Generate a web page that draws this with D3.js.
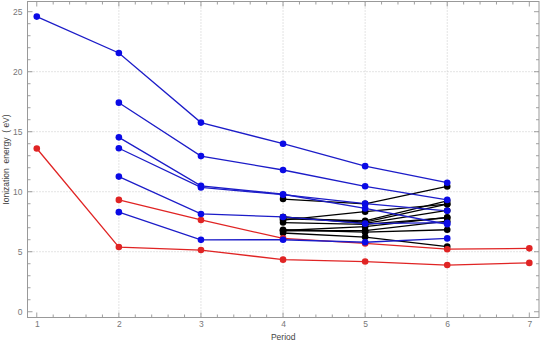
<!DOCTYPE html>
<html><head><meta charset="utf-8">
<script src="https://cdn.jsdelivr.net/npm/d3@7"></script>
<style>body{margin:0;background:#fff}svg{display:block}</style>
</head><body>
<svg id="c" width="540" height="341"></svg>
<script>
// periods for each series (start period), values in eV
const alkaliStart = 1;
const alkali = [13.60, 5.39, 5.14, 4.34, 4.18, 3.89, 4.07];
const alkalineStart = 2;
const alkaline = [9.32, 7.65, 6.11, 5.69, 5.21, 5.28];

const nobleStart = 1;
const noble = [24.59, 21.56, 15.76, 14.00, 12.13, 10.75];
const pBlockStart = 2;
const halogens = [17.42, 12.97, 11.81, 10.45, 9.32];
const pnictogens = [14.53, 10.49, 9.79, 8.61, 7.29];
const chalcogens = [13.62, 10.36, 9.75, 9.01, 8.41];
const carbonGroup = [11.26, 8.15, 7.90, 7.34, 7.42];
const boronGroup = [8.30, 5.99, 6.00, 5.79, 6.11];

const transitionStart = 4;
const group3 = [6.56, 6.22, 5.43];
const group4 = [6.83, 6.63, 6.83];
const group5 = [6.75, 6.76, 7.55];
const group6 = [6.77, 7.09, 7.86];
const group7 = [7.43, 7.28, 7.83];
const group8 = [7.90, 7.36, 8.44];
const group9 = [7.88, 7.46, 8.97];
const group10 = [7.64, 8.34, 8.96];
const group11 = [7.73, 7.58, 9.23];
const group12 = [9.39, 8.99, 10.44];

const xTicks = [1, 2, 3, 4, 5, 6, 7];
const yTicks = [0, 5, 10, 15, 20, 25];
const xLabel = "Period";
const yLabel = "Ionization  energy  ( eV)";

const BLUE = "#1c1cc8", BLUEPT = "#0a0ae6", RED = "#e02424", BLACK = "#000";
const series = [
  {start: transitionStart, v: group3, c: BLACK, p: BLACK},
  {start: transitionStart, v: group4, c: BLACK, p: BLACK},
  {start: transitionStart, v: group5, c: BLACK, p: BLACK},
  {start: transitionStart, v: group6, c: BLACK, p: BLACK},
  {start: transitionStart, v: group7, c: BLACK, p: BLACK},
  {start: transitionStart, v: group8, c: BLACK, p: BLACK},
  {start: transitionStart, v: group9, c: BLACK, p: BLACK},
  {start: transitionStart, v: group10, c: BLACK, p: BLACK},
  {start: transitionStart, v: group11, c: BLACK, p: BLACK},
  {start: transitionStart, v: group12, c: BLACK, p: BLACK},
  {start: alkalineStart, v: alkaline, c: RED, p: RED},
  {start: alkaliStart, v: alkali, c: RED, p: RED},
  {start: pBlockStart, v: boronGroup, c: BLUE, p: BLUEPT},
  {start: pBlockStart, v: carbonGroup, c: BLUE, p: BLUEPT},
  {start: pBlockStart, v: pnictogens, c: BLUE, p: BLUEPT},
  {start: pBlockStart, v: chalcogens, c: BLUE, p: BLUEPT},
  {start: pBlockStart, v: halogens, c: BLUE, p: BLUEPT},
  {start: nobleStart, v: noble, c: BLUE, p: BLUEPT}
];

const svg = d3.select("#c");
const L = 27.5, R = 539, T = 1.5, B = 317.5;
const x = d3.scaleLinear().domain([0.887, 7.118]).range([L, R]);
const y = d3.scaleLinear().domain([-0.48, 25.85]).range([B, T]);
const FONT = "Liberation Sans, Arial, sans-serif";

// grid
const g = svg.append("g");
g.selectAll("line.gx").data(xTicks.filter(d => d > 1 && d < 7)).join("line")
  .attr("x1", d => x(d)).attr("x2", d => x(d)).attr("y1", T).attr("y2", B)
  .attr("stroke", "#c8c8c8").attr("stroke-width", 1).attr("stroke-dasharray", "1,2");
g.selectAll("line.gy").data(yTicks.filter(d => d > 0 && d < 25)).join("line")
  .attr("y1", d => y(d)).attr("y2", d => y(d)).attr("x1", L).attr("x2", R)
  .attr("stroke", "#c8c8c8").attr("stroke-width", 1).attr("stroke-dasharray", "1,2");

// axes (ticks inside)
const tickCol = "#888";
const xMinor = d3.range(1, 7.001, 0.2);
const yMinor = d3.range(0, 25.001, 1);
const ax = svg.append("g").attr("transform", `translate(0,${B})`)
  .call(d3.axisBottom(x).tickValues(xTicks).tickFormat(d3.format("d")).tickSize(0).tickPadding(3));
ax.select(".domain").remove();
ax.selectAll("text").attr("fill", "#777").attr("font-size", 8.5).attr("font-family", FONT);
const ay = svg.append("g").attr("transform", `translate(${L},0)`)
  .call(d3.axisLeft(y).tickValues(yTicks).tickSize(0).tickPadding(5));
ay.select(".domain").remove();
ay.selectAll("text").attr("fill", "#777").attr("font-size", 8.5).attr("font-family", FONT);

const tk = svg.append("g").attr("stroke", tickCol).attr("stroke-width", 0.8);
xMinor.forEach(v => {
  const major = Math.abs(v - Math.round(v)) < 1e-6;
  const len = major ? 5 : 3;
  tk.append("line").attr("x1", x(v)).attr("x2", x(v)).attr("y1", B).attr("y2", B - len);
  tk.append("line").attr("x1", x(v)).attr("x2", x(v)).attr("y1", T).attr("y2", T + len);
});
yMinor.forEach(v => {
  const major = v % 5 === 0;
  const len = major ? 5 : 3;
  tk.append("line").attr("y1", y(v)).attr("y2", y(v)).attr("x1", L).attr("x2", L + len);
  tk.append("line").attr("y1", y(v)).attr("y2", y(v)).attr("x1", R).attr("x2", R - len);
});
svg.append("rect").attr("x", L).attr("y", T).attr("width", R - L).attr("height", B - T)
  .attr("fill", "none").attr("stroke", "#999").attr("stroke-width", 1);

// labels
svg.append("text").attr("x", (L + R) / 2).attr("y", 339.5).attr("text-anchor", "middle")
  .attr("font-size", 8.5).attr("fill", "#444").attr("font-family", FONT).text(xLabel);
svg.append("text").attr("transform", `translate(9,${(T + B) / 2}) rotate(-90)`).attr("text-anchor", "middle")
  .attr("font-size", 8.5).attr("fill", "#444").attr("font-family", FONT)
  .style("white-space", "pre").text(yLabel);

// series
const line = d3.line().x(d => x(d[0])).y(d => y(d[1]));
series.forEach(s => {
  const pts = s.v.map((v, i) => [s.start + i, v]);
  svg.append("path").datum(pts).attr("d", line).attr("fill", "none")
    .attr("stroke", s.c).attr("stroke-width", 1.3);
  svg.append("g").selectAll("circle").data(pts).join("circle")
    .attr("cx", d => x(d[0])).attr("cy", d => y(d[1])).attr("r", 3.3).attr("fill", s.p);
});
</script>
</body></html>
